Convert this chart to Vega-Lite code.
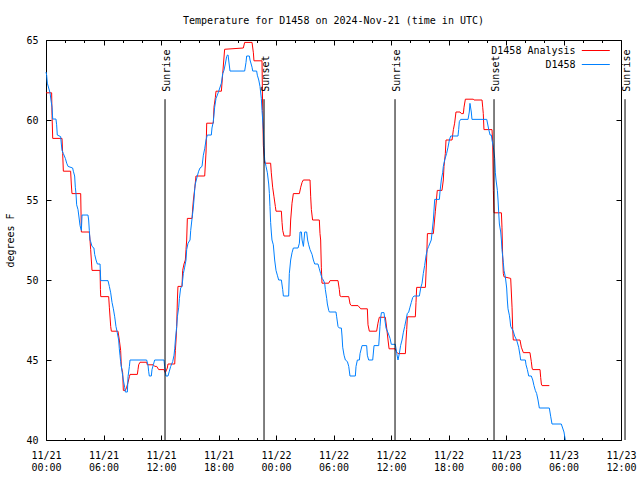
{
"$schema":"https://vega.github.io/schema/vega-lite/v6.json",
"width":575,"height":400,
"autosize":"none",
"padding":{"left":46,"top":40,"right":19,"bottom":40},
"background":"white",
"title":{"text":"Temperature for D1458 on 2024-Nov-21 (time in UTC)","font":"DejaVu Sans Mono","fontSize":10,"fontWeight":"normal","color":"black","offset":9},
"config":{"view":{"stroke":"black","strokeWidth":1},"axis":{"domain":false,"grid":false,"tickColor":"black","tickWidth":1,"labelFont":"DejaVu Sans Mono","labelFontSize":10,"labelColor":"black","titleFont":"DejaVu Sans Mono","titleFontSize":10,"titleFontWeight":"normal","titleColor":"black","labelFlush":false,"labelOverlap":false,"labelBound":false}},
"datasets":{
"temps":[
{"series":"D1458 Analysis","hour":0,"temp":61.7},{"series":"D1458 Analysis","hour":0.59,"temp":61.7},{"series":"D1458 Analysis","hour":0.63,"temp":60.3},{"series":"D1458 Analysis","hour":0.7,"temp":58.85},{"series":"D1458 Analysis","hour":1.67,"temp":58.85},{"series":"D1458 Analysis","hour":1.74,"temp":57.9},{"series":"D1458 Analysis","hour":1.81,"temp":56.8},{"series":"D1458 Analysis","hour":2.57,"temp":56.8},{"series":"D1458 Analysis","hour":2.64,"temp":56.0},{"series":"D1458 Analysis","hour":2.71,"temp":55.4},{"series":"D1458 Analysis","hour":3.62,"temp":55.4},{"series":"D1458 Analysis","hour":3.69,"temp":53.0},{"series":"D1458 Analysis","hour":4.52,"temp":53.0},{"series":"D1458 Analysis","hour":4.59,"temp":52.5},{"series":"D1458 Analysis","hour":4.66,"temp":51.9},{"series":"D1458 Analysis","hour":4.8,"temp":50.6},{"series":"D1458 Analysis","hour":5.64,"temp":50.6},{"series":"D1458 Analysis","hour":5.68,"temp":49.4},{"series":"D1458 Analysis","hour":5.71,"temp":48.96},{"series":"D1458 Analysis","hour":6.54,"temp":48.96},{"series":"D1458 Analysis","hour":6.61,"temp":48.3},{"series":"D1458 Analysis","hour":6.75,"temp":47.1},{"series":"D1458 Analysis","hour":6.82,"temp":46.8},{"series":"D1458 Analysis","hour":7.51,"temp":46.8},{"series":"D1458 Analysis","hour":7.65,"temp":46.25},{"series":"D1458 Analysis","hour":7.79,"temp":45.6},{"series":"D1458 Analysis","hour":7.86,"temp":44.6},{"series":"D1458 Analysis","hour":8.0,"temp":44.2},{"series":"D1458 Analysis","hour":8.07,"temp":43.1},{"series":"D1458 Analysis","hour":8.28,"temp":43.1},{"series":"D1458 Analysis","hour":8.42,"temp":43.3},{"series":"D1458 Analysis","hour":8.56,"temp":43.6},{"series":"D1458 Analysis","hour":8.7,"temp":43.96},{"series":"D1458 Analysis","hour":8.77,"temp":44.1},{"series":"D1458 Analysis","hour":9.53,"temp":44.1},{"series":"D1458 Analysis","hour":9.6,"temp":44.4},{"series":"D1458 Analysis","hour":9.67,"temp":44.7},{"series":"D1458 Analysis","hour":9.81,"temp":44.86},{"series":"D1458 Analysis","hour":10.5,"temp":44.86},{"series":"D1458 Analysis","hour":10.57,"temp":44.7},{"series":"D1458 Analysis","hour":11.2,"temp":44.7},{"series":"D1458 Analysis","hour":11.34,"temp":44.6},{"series":"D1458 Analysis","hour":11.55,"temp":44.6},{"series":"D1458 Analysis","hour":11.76,"temp":44.4},{"series":"D1458 Analysis","hour":12.31,"temp":44.4},{"series":"D1458 Analysis","hour":12.45,"temp":44.2},{"series":"D1458 Analysis","hour":12.66,"temp":44.5},{"series":"D1458 Analysis","hour":12.73,"temp":44.75},{"series":"D1458 Analysis","hour":13.43,"temp":44.75},{"series":"D1458 Analysis","hour":13.5,"temp":45.6},{"series":"D1458 Analysis","hour":13.57,"temp":46.25},{"series":"D1458 Analysis","hour":13.64,"temp":47.1},{"series":"D1458 Analysis","hour":13.71,"temp":48.75},{"series":"D1458 Analysis","hour":13.77,"temp":49.6},{"series":"D1458 Analysis","hour":14.19,"temp":49.6},{"series":"D1458 Analysis","hour":14.26,"temp":50.6},{"series":"D1458 Analysis","hour":14.4,"temp":51.0},{"series":"D1458 Analysis","hour":14.54,"temp":51.25},{"series":"D1458 Analysis","hour":14.61,"temp":51.9},{"series":"D1458 Analysis","hour":14.68,"temp":52.5},{"series":"D1458 Analysis","hour":14.75,"temp":53.85},{"series":"D1458 Analysis","hour":15.24,"temp":53.85},{"series":"D1458 Analysis","hour":15.31,"temp":54.5},{"series":"D1458 Analysis","hour":15.38,"temp":55.0},{"series":"D1458 Analysis","hour":15.52,"temp":55.7},{"series":"D1458 Analysis","hour":15.65,"temp":56.5},{"series":"D1458 Analysis","hour":16.56,"temp":56.5},{"series":"D1458 Analysis","hour":16.7,"temp":58.0},{"series":"D1458 Analysis","hour":16.77,"temp":59.8},{"series":"D1458 Analysis","hour":17.46,"temp":59.8},{"series":"D1458 Analysis","hour":17.53,"temp":60.8},{"series":"D1458 Analysis","hour":17.67,"temp":61.4},{"series":"D1458 Analysis","hour":17.74,"temp":61.8},{"series":"D1458 Analysis","hour":18.3,"temp":61.8},{"series":"D1458 Analysis","hour":18.44,"temp":62.9},{"series":"D1458 Analysis","hour":18.64,"temp":64.42},{"series":"D1458 Analysis","hour":20.59,"temp":64.5},{"series":"D1458 Analysis","hour":20.73,"temp":64.85},{"series":"D1458 Analysis","hour":21.5,"temp":64.85},{"series":"D1458 Analysis","hour":21.64,"temp":64.2},{"series":"D1458 Analysis","hour":21.7,"temp":63.7},{"series":"D1458 Analysis","hour":22.54,"temp":63.7},{"series":"D1458 Analysis","hour":22.61,"temp":60.6},{"series":"D1458 Analysis","hour":22.68,"temp":58.4},{"series":"D1458 Analysis","hour":22.82,"temp":57.3},{"series":"D1458 Analysis","hour":23.44,"temp":57.3},{"series":"D1458 Analysis","hour":23.51,"temp":56.7},{"series":"D1458 Analysis","hour":23.65,"temp":55.8},{"series":"D1458 Analysis","hour":23.79,"temp":55.2},{"series":"D1458 Analysis","hour":23.93,"temp":54.6},{"series":"D1458 Analysis","hour":24.0,"temp":54.3},{"series":"D1458 Analysis","hour":24.56,"temp":54.3},{"series":"D1458 Analysis","hour":24.63,"temp":53.6},{"series":"D1458 Analysis","hour":24.7,"temp":53.1},{"series":"D1458 Analysis","hour":24.84,"temp":52.75},{"series":"D1458 Analysis","hour":25.46,"temp":52.75},{"series":"D1458 Analysis","hour":25.53,"temp":53.75},{"series":"D1458 Analysis","hour":25.67,"temp":54.8},{"series":"D1458 Analysis","hour":25.81,"temp":55.4},{"series":"D1458 Analysis","hour":26.44,"temp":55.4},{"series":"D1458 Analysis","hour":26.58,"temp":55.8},{"series":"D1458 Analysis","hour":26.72,"temp":56.1},{"series":"D1458 Analysis","hour":26.85,"temp":56.25},{"series":"D1458 Analysis","hour":27.55,"temp":56.25},{"series":"D1458 Analysis","hour":27.62,"temp":55.2},{"series":"D1458 Analysis","hour":27.69,"temp":54.4},{"series":"D1458 Analysis","hour":27.82,"temp":53.75},{"series":"D1458 Analysis","hour":28.52,"temp":53.75},{"series":"D1458 Analysis","hour":28.59,"temp":52.9},{"series":"D1458 Analysis","hour":28.66,"temp":52.5},{"series":"D1458 Analysis","hour":28.73,"temp":50.8},{"series":"D1458 Analysis","hour":28.8,"temp":49.8},{"series":"D1458 Analysis","hour":29.5,"temp":49.8},{"series":"D1458 Analysis","hour":29.64,"temp":49.96},{"series":"D1458 Analysis","hour":30.47,"temp":49.96},{"series":"D1458 Analysis","hour":30.61,"temp":49.4},{"series":"D1458 Analysis","hour":30.68,"temp":49.0},{"series":"D1458 Analysis","hour":30.82,"temp":48.96},{"series":"D1458 Analysis","hour":31.59,"temp":48.96},{"series":"D1458 Analysis","hour":31.73,"temp":48.5},{"series":"D1458 Analysis","hour":31.86,"temp":48.4},{"series":"D1458 Analysis","hour":32.56,"temp":48.4},{"series":"D1458 Analysis","hour":32.84,"temp":48.2},{"series":"D1458 Analysis","hour":33.53,"temp":48.2},{"series":"D1458 Analysis","hour":33.6,"temp":47.2},{"series":"D1458 Analysis","hour":33.74,"temp":46.8},{"series":"D1458 Analysis","hour":34.5,"temp":46.8},{"series":"D1458 Analysis","hour":34.64,"temp":47.3},{"series":"D1458 Analysis","hour":34.78,"temp":47.67},{"series":"D1458 Analysis","hour":35.41,"temp":47.67},{"series":"D1458 Analysis","hour":35.55,"temp":47.0},{"series":"D1458 Analysis","hour":35.69,"temp":46.25},{"series":"D1458 Analysis","hour":35.8,"temp":45.7},{"series":"D1458 Analysis","hour":36.45,"temp":45.7},{"series":"D1458 Analysis","hour":36.59,"temp":45.5},{"series":"D1458 Analysis","hour":36.73,"temp":45.4},{"series":"D1458 Analysis","hour":37.5,"temp":45.4},{"series":"D1458 Analysis","hour":37.57,"temp":46.25},{"series":"D1458 Analysis","hour":37.64,"temp":46.9},{"series":"D1458 Analysis","hour":37.71,"temp":47.7},{"series":"D1458 Analysis","hour":38.54,"temp":47.7},{"series":"D1458 Analysis","hour":38.61,"temp":48.6},{"series":"D1458 Analysis","hour":38.68,"temp":49.54},{"series":"D1458 Analysis","hour":39.59,"temp":49.54},{"series":"D1458 Analysis","hour":39.66,"temp":50.5},{"series":"D1458 Analysis","hour":39.73,"temp":51.5},{"series":"D1458 Analysis","hour":39.8,"temp":52.9},{"series":"D1458 Analysis","hour":40.42,"temp":52.9},{"series":"D1458 Analysis","hour":40.63,"temp":54.3},{"series":"D1458 Analysis","hour":40.83,"temp":55.6},{"series":"D1458 Analysis","hour":41.32,"temp":55.6},{"series":"D1458 Analysis","hour":41.46,"temp":56.25},{"series":"D1458 Analysis","hour":41.53,"temp":57.1},{"series":"D1458 Analysis","hour":41.67,"temp":57.9},{"series":"D1458 Analysis","hour":41.74,"temp":58.75},{"series":"D1458 Analysis","hour":42.37,"temp":58.75},{"series":"D1458 Analysis","hour":42.51,"temp":59.4},{"series":"D1458 Analysis","hour":42.64,"temp":59.8},{"series":"D1458 Analysis","hour":42.78,"temp":60.5},{"series":"D1458 Analysis","hour":43.2,"temp":60.5},{"series":"D1458 Analysis","hour":43.34,"temp":60.4},{"series":"D1458 Analysis","hour":43.55,"temp":60.4},{"series":"D1458 Analysis","hour":43.62,"temp":60.8},{"series":"D1458 Analysis","hour":43.76,"temp":61.3},{"series":"D1458 Analysis","hour":44.59,"temp":61.3},{"series":"D1458 Analysis","hour":44.66,"temp":61.25},{"series":"D1458 Analysis","hour":45.5,"temp":61.25},{"series":"D1458 Analysis","hour":45.57,"temp":60.8},{"series":"D1458 Analysis","hour":45.63,"temp":60.4},{"series":"D1458 Analysis","hour":45.7,"temp":59.4},{"series":"D1458 Analysis","hour":46.54,"temp":59.4},{"series":"D1458 Analysis","hour":46.61,"temp":58.6},{"series":"D1458 Analysis","hour":46.68,"temp":55.6},{"series":"D1458 Analysis","hour":46.75,"temp":54.2},{"series":"D1458 Analysis","hour":47.52,"temp":54.2},{"series":"D1458 Analysis","hour":47.58,"temp":53.3},{"series":"D1458 Analysis","hour":47.65,"temp":51.5},{"series":"D1458 Analysis","hour":47.72,"temp":50.4},{"series":"D1458 Analysis","hour":47.79,"temp":50.2},{"series":"D1458 Analysis","hour":48.49,"temp":50.1},{"series":"D1458 Analysis","hour":48.63,"temp":48.3},{"series":"D1458 Analysis","hour":48.7,"temp":46.9},{"series":"D1458 Analysis","hour":48.76,"temp":46.25},{"series":"D1458 Analysis","hour":49.46,"temp":46.25},{"series":"D1458 Analysis","hour":49.6,"temp":45.8},{"series":"D1458 Analysis","hour":49.81,"temp":45.46},{"series":"D1458 Analysis","hour":50.5,"temp":45.46},{"series":"D1458 Analysis","hour":50.64,"temp":44.9},{"series":"D1458 Analysis","hour":50.72,"temp":44.5},{"series":"D1458 Analysis","hour":50.79,"temp":44.4},{"series":"D1458 Analysis","hour":51.55,"temp":44.4},{"series":"D1458 Analysis","hour":51.62,"temp":43.9},{"series":"D1458 Analysis","hour":51.69,"temp":43.5},{"series":"D1458 Analysis","hour":51.76,"temp":43.4},{"series":"D1458 Analysis","hour":52.52,"temp":43.4},
{"series":"D1458","hour":0,"temp":63.0},{"series":"D1458","hour":0.07,"temp":62.8},{"series":"D1458","hour":0.14,"temp":62.3},{"series":"D1458","hour":0.28,"temp":62.0},{"series":"D1458","hour":0.42,"temp":61.7},{"series":"D1458","hour":0.52,"temp":61.25},{"series":"D1458","hour":0.63,"temp":60.8},{"series":"D1458","hour":0.7,"temp":60.06},{"series":"D1458","hour":1.04,"temp":60.06},{"series":"D1458","hour":1.11,"temp":59.7},{"series":"D1458","hour":1.18,"temp":59.06},{"series":"D1458","hour":1.53,"temp":58.96},{"series":"D1458","hour":1.6,"temp":58.5},{"series":"D1458","hour":1.67,"temp":58.1},{"series":"D1458","hour":1.81,"temp":57.9},{"series":"D1458","hour":2.02,"temp":57.6},{"series":"D1458","hour":2.16,"temp":57.3},{"series":"D1458","hour":2.3,"temp":57.1},{"series":"D1458","hour":2.78,"temp":57.0},{"series":"D1458","hour":2.85,"temp":56.8},{"series":"D1458","hour":2.99,"temp":56.5},{"series":"D1458","hour":3.06,"temp":55.8},{"series":"D1458","hour":3.13,"temp":55.4},{"series":"D1458","hour":3.2,"temp":54.7},{"series":"D1458","hour":3.34,"temp":54.4},{"series":"D1458","hour":3.48,"temp":53.75},{"series":"D1458","hour":3.55,"temp":53.4},{"series":"D1458","hour":3.69,"temp":53.1},{"series":"D1458","hour":3.76,"temp":54.06},{"series":"D1458","hour":4.38,"temp":54.06},{"series":"D1458","hour":4.45,"temp":53.75},{"series":"D1458","hour":4.52,"temp":53.1},{"series":"D1458","hour":4.59,"temp":52.5},{"series":"D1458","hour":4.66,"temp":52.4},{"series":"D1458","hour":4.8,"temp":52.1},{"series":"D1458","hour":5.0,"temp":52.0},{"series":"D1458","hour":5.08,"temp":51.6},{"series":"D1458","hour":5.22,"temp":51.25},{"series":"D1458","hour":5.36,"temp":51.0},{"series":"D1458","hour":5.64,"temp":51.0},{"series":"D1458","hour":5.71,"temp":49.96},{"series":"D1458","hour":6.47,"temp":49.96},{"series":"D1458","hour":6.61,"temp":49.6},{"series":"D1458","hour":6.75,"temp":49.2},{"series":"D1458","hour":6.89,"temp":48.6},{"series":"D1458","hour":7.03,"temp":48.2},{"series":"D1458","hour":7.17,"temp":47.7},{"series":"D1458","hour":7.3,"temp":47.1},{"series":"D1458","hour":7.44,"temp":46.7},{"series":"D1458","hour":7.58,"temp":46.25},{"series":"D1458","hour":7.65,"temp":45.7},{"series":"D1458","hour":7.72,"temp":45.3},{"series":"D1458","hour":7.79,"temp":44.9},{"series":"D1458","hour":7.93,"temp":44.3},{"series":"D1458","hour":8.07,"temp":43.75},{"series":"D1458","hour":8.21,"temp":43.3},{"series":"D1458","hour":8.28,"temp":43.0},{"series":"D1458","hour":8.49,"temp":43.0},{"series":"D1458","hour":8.56,"temp":43.96},{"series":"D1458","hour":8.7,"temp":44.6},{"series":"D1458","hour":8.77,"temp":45.0},{"series":"D1458","hour":10.5,"temp":45.0},{"series":"D1458","hour":10.64,"temp":44.7},{"series":"D1458","hour":10.71,"temp":44.3},{"series":"D1458","hour":10.78,"temp":44.0},{"series":"D1458","hour":10.99,"temp":44.0},{"series":"D1458","hour":11.06,"temp":44.4},{"series":"D1458","hour":11.2,"temp":44.7},{"series":"D1458","hour":11.34,"temp":45.0},{"series":"D1458","hour":12.31,"temp":45.0},{"series":"D1458","hour":12.38,"temp":44.6},{"series":"D1458","hour":12.52,"temp":44.0},{"series":"D1458","hour":12.73,"temp":44.0},{"series":"D1458","hour":12.87,"temp":44.3},{"series":"D1458","hour":13.01,"temp":44.6},{"series":"D1458","hour":13.22,"temp":44.9},{"series":"D1458","hour":13.36,"temp":45.3},{"series":"D1458","hour":13.43,"temp":45.7},{"series":"D1458","hour":13.5,"temp":46.25},{"series":"D1458","hour":13.64,"temp":47.1},{"series":"D1458","hour":13.71,"temp":47.7},{"series":"D1458","hour":13.85,"temp":48.3},{"series":"D1458","hour":13.92,"temp":48.85},{"series":"D1458","hour":14.05,"temp":49.5},{"series":"D1458","hour":14.19,"temp":49.6},{"series":"D1458","hour":14.33,"temp":50.4},{"series":"D1458","hour":14.47,"temp":50.8},{"series":"D1458","hour":14.61,"temp":51.25},{"series":"D1458","hour":14.68,"temp":51.9},{"series":"D1458","hour":14.82,"temp":52.3},{"series":"D1458","hour":15.03,"temp":52.5},{"series":"D1458","hour":15.1,"temp":53.1},{"series":"D1458","hour":15.24,"temp":53.85},{"series":"D1458","hour":15.37,"temp":54.5},{"series":"D1458","hour":15.44,"temp":55.0},{"series":"D1458","hour":15.52,"temp":55.7},{"series":"D1458","hour":15.58,"temp":56.0},{"series":"D1458","hour":15.79,"temp":56.5},{"series":"D1458","hour":15.93,"temp":56.8},{"series":"D1458","hour":16.07,"temp":57.0},{"series":"D1458","hour":16.28,"temp":57.1},{"series":"D1458","hour":16.42,"temp":57.8},{"series":"D1458","hour":16.56,"temp":58.2},{"series":"D1458","hour":16.7,"temp":58.75},{"series":"D1458","hour":16.83,"temp":59.06},{"series":"D1458","hour":17.25,"temp":59.06},{"series":"D1458","hour":17.32,"temp":59.5},{"series":"D1458","hour":17.46,"temp":59.9},{"series":"D1458","hour":17.6,"temp":60.8},{"series":"D1458","hour":17.74,"temp":61.35},{"series":"D1458","hour":17.88,"temp":61.56},{"series":"D1458","hour":18.02,"temp":61.8},{"series":"D1458","hour":18.3,"temp":62.3},{"series":"D1458","hour":18.44,"temp":62.9},{"series":"D1458","hour":18.57,"temp":63.1},{"series":"D1458","hour":18.71,"temp":63.5},{"series":"D1458","hour":18.85,"temp":63.96},{"series":"D1458","hour":18.93,"temp":64.06},{"series":"D1458","hour":19.0,"temp":64.06},{"series":"D1458","hour":19.06,"temp":63.75},{"series":"D1458","hour":19.2,"temp":63.06},{"series":"D1458","hour":20.73,"temp":63.06},{"series":"D1458","hour":20.87,"temp":63.6},{"series":"D1458","hour":20.94,"temp":64.0},{"series":"D1458","hour":21.22,"temp":64.0},{"series":"D1458","hour":21.29,"temp":63.75},{"series":"D1458","hour":21.5,"temp":63.3},{"series":"D1458","hour":21.57,"temp":63.06},{"series":"D1458","hour":21.98,"temp":63.06},{"series":"D1458","hour":22.05,"temp":62.8},{"series":"D1458","hour":22.2,"temp":62.5},{"series":"D1458","hour":22.33,"temp":62.1},{"series":"D1458","hour":22.47,"temp":61.35},{"series":"D1458","hour":22.54,"temp":60.6},{"series":"D1458","hour":22.68,"temp":59.4},{"series":"D1458","hour":22.75,"temp":58.3},{"series":"D1458","hour":22.82,"temp":57.5},{"series":"D1458","hour":22.96,"temp":57.1},{"series":"D1458","hour":23.1,"temp":56.7},{"series":"D1458","hour":23.24,"temp":56.0},{"series":"D1458","hour":23.31,"temp":55.4},{"series":"D1458","hour":23.37,"temp":54.6},{"series":"D1458","hour":23.44,"temp":53.6},{"series":"D1458","hour":23.51,"temp":53.0},{"series":"D1458","hour":23.58,"temp":52.5},{"series":"D1458","hour":23.72,"temp":52.2},{"series":"D1458","hour":23.86,"temp":51.25},{"series":"D1458","hour":24.0,"temp":50.6},{"series":"D1458","hour":24.14,"temp":50.3},{"series":"D1458","hour":24.28,"temp":50.0},{"series":"D1458","hour":24.56,"temp":50.0},{"series":"D1458","hour":24.7,"temp":49.4},{"series":"D1458","hour":24.77,"temp":49.0},{"series":"D1458","hour":25.32,"temp":49.0},{"series":"D1458","hour":25.39,"temp":50.4},{"series":"D1458","hour":25.53,"temp":51.25},{"series":"D1458","hour":25.67,"temp":51.7},{"series":"D1458","hour":25.81,"temp":52.0},{"series":"D1458","hour":26.3,"temp":52.0},{"series":"D1458","hour":26.44,"temp":52.3},{"series":"D1458","hour":26.51,"temp":53.0},{"series":"D1458","hour":26.65,"temp":53.0},{"series":"D1458","hour":26.72,"temp":52.5},{"series":"D1458","hour":26.86,"temp":52.1},{"series":"D1458","hour":27.0,"temp":53.0},{"series":"D1458","hour":27.2,"temp":53.0},{"series":"D1458","hour":27.3,"temp":52.5},{"series":"D1458","hour":27.41,"temp":52.2},{"series":"D1458","hour":27.55,"temp":51.9},{"series":"D1458","hour":27.76,"temp":51.6},{"series":"D1458","hour":27.9,"temp":51.25},{"series":"D1458","hour":28.04,"temp":51.0},{"series":"D1458","hour":28.38,"temp":51.0},{"series":"D1458","hour":28.52,"temp":50.7},{"series":"D1458","hour":28.66,"temp":50.4},{"series":"D1458","hour":28.8,"temp":50.1},{"series":"D1458","hour":28.94,"temp":50.0},{"series":"D1458","hour":29.08,"temp":49.8},{"series":"D1458","hour":29.15,"temp":49.4},{"series":"D1458","hour":29.29,"temp":48.85},{"series":"D1458","hour":29.36,"temp":48.5},{"series":"D1458","hour":29.5,"temp":48.1},{"series":"D1458","hour":29.57,"temp":48.0},{"series":"D1458","hour":30.26,"temp":48.0},{"series":"D1458","hour":30.33,"temp":47.7},{"series":"D1458","hour":30.47,"temp":47.1},{"series":"D1458","hour":30.6,"temp":47.0},{"series":"D1458","hour":30.82,"temp":47.0},{"series":"D1458","hour":30.89,"temp":46.5},{"series":"D1458","hour":30.96,"temp":45.8},{"series":"D1458","hour":31.1,"temp":45.3},{"series":"D1458","hour":31.24,"temp":45.0},{"series":"D1458","hour":31.45,"temp":44.9},{"series":"D1458","hour":31.59,"temp":44.6},{"series":"D1458","hour":31.72,"temp":44.0},{"series":"D1458","hour":32.28,"temp":44.0},{"series":"D1458","hour":32.35,"temp":44.6},{"series":"D1458","hour":32.49,"temp":45.0},{"series":"D1458","hour":32.7,"temp":45.0},{"series":"D1458","hour":32.77,"temp":45.4},{"series":"D1458","hour":32.98,"temp":45.9},{"series":"D1458","hour":33.46,"temp":45.9},{"series":"D1458","hour":33.53,"temp":45.3},{"series":"D1458","hour":33.67,"temp":45.0},{"series":"D1458","hour":34.09,"temp":45.0},{"series":"D1458","hour":34.23,"temp":45.9},{"series":"D1458","hour":34.72,"temp":45.9},{"series":"D1458","hour":34.85,"temp":47.1},{"series":"D1458","hour":34.93,"temp":47.67},{"series":"D1458","hour":35.0,"temp":47.96},{"series":"D1458","hour":35.27,"temp":47.96},{"series":"D1458","hour":35.34,"temp":47.6},{"series":"D1458","hour":35.48,"temp":47.0},{"series":"D1458","hour":35.69,"temp":46.7},{"series":"D1458","hour":35.9,"temp":46.35},{"series":"D1458","hour":36.03,"temp":45.98},{"series":"D1458","hour":36.45,"temp":45.98},{"series":"D1458","hour":36.6,"temp":45.4},{"series":"D1458","hour":36.73,"temp":45.0},{"series":"D1458","hour":36.87,"temp":45.4},{"series":"D1458","hour":37.0,"temp":45.9},{"series":"D1458","hour":37.15,"temp":46.25},{"series":"D1458","hour":37.28,"temp":46.7},{"series":"D1458","hour":37.43,"temp":47.1},{"series":"D1458","hour":37.57,"temp":47.5},{"series":"D1458","hour":37.7,"temp":47.9},{"series":"D1458","hour":37.85,"temp":48.0},{"series":"D1458","hour":37.98,"temp":48.3},{"series":"D1458","hour":38.12,"temp":48.6},{"series":"D1458","hour":38.26,"temp":48.9},{"series":"D1458","hour":38.4,"temp":49.0},{"series":"D1458","hour":38.96,"temp":49.0},{"series":"D1458","hour":39.1,"temp":49.5},{"series":"D1458","hour":39.24,"temp":49.8},{"series":"D1458","hour":39.37,"temp":50.4},{"series":"D1458","hour":39.51,"temp":50.9},{"series":"D1458","hour":39.65,"temp":51.5},{"series":"D1458","hour":39.79,"temp":51.9},{"series":"D1458","hour":39.93,"temp":52.1},{"series":"D1458","hour":40.2,"temp":52.5},{"series":"D1458","hour":40.42,"temp":53.75},{"series":"D1458","hour":40.56,"temp":55.04},{"series":"D1458","hour":41.05,"temp":55.04},{"series":"D1458","hour":41.11,"temp":55.5},{"series":"D1458","hour":41.25,"temp":56.25},{"series":"D1458","hour":41.39,"temp":56.7},{"series":"D1458","hour":41.46,"temp":57.1},{"series":"D1458","hour":41.6,"temp":57.5},{"series":"D1458","hour":41.8,"temp":57.9},{"series":"D1458","hour":41.95,"temp":58.3},{"series":"D1458","hour":42.09,"temp":58.75},{"series":"D1458","hour":42.23,"temp":59.0},{"series":"D1458","hour":42.99,"temp":59.0},{"series":"D1458","hour":43.06,"temp":59.4},{"series":"D1458","hour":43.13,"temp":59.9},{"series":"D1458","hour":43.27,"temp":60.04},{"series":"D1458","hour":44.04,"temp":60.04},{"series":"D1458","hour":44.17,"temp":60.5},{"series":"D1458","hour":44.24,"temp":61.04},{"series":"D1458","hour":44.38,"temp":60.5},{"series":"D1458","hour":44.45,"temp":60.04},{"series":"D1458","hour":45.99,"temp":60.04},{"series":"D1458","hour":46.2,"temp":59.4},{"series":"D1458","hour":46.34,"temp":59.06},{"series":"D1458","hour":46.47,"temp":59.06},{"series":"D1458","hour":46.54,"temp":58.75},{"series":"D1458","hour":46.68,"temp":58.3},{"series":"D1458","hour":46.82,"temp":57.6},{"series":"D1458","hour":46.89,"temp":56.7},{"series":"D1458","hour":46.96,"temp":56.25},{"series":"D1458","hour":47.1,"temp":55.6},{"series":"D1458","hour":47.17,"temp":55.0},{"series":"D1458","hour":47.24,"temp":54.2},{"series":"D1458","hour":47.31,"temp":53.5},{"series":"D1458","hour":47.45,"temp":53.0},{"series":"D1458","hour":47.52,"temp":52.5},{"series":"D1458","hour":47.58,"temp":51.9},{"series":"D1458","hour":47.72,"temp":51.1},{"series":"D1458","hour":47.79,"temp":50.6},{"series":"D1458","hour":47.93,"temp":50.2},{"series":"D1458","hour":48.07,"temp":49.5},{"series":"D1458","hour":48.14,"temp":48.75},{"series":"D1458","hour":48.21,"temp":48.2},{"series":"D1458","hour":48.35,"temp":47.8},{"series":"D1458","hour":48.42,"temp":47.5},{"series":"D1458","hour":48.49,"temp":47.1},{"series":"D1458","hour":48.76,"temp":46.8},{"series":"D1458","hour":48.9,"temp":46.5},{"series":"D1458","hour":49.11,"temp":46.25},{"series":"D1458","hour":49.32,"temp":45.8},{"series":"D1458","hour":49.46,"temp":45.3},{"series":"D1458","hour":49.53,"temp":45.0},{"series":"D1458","hour":50.02,"temp":45.0},{"series":"D1458","hour":50.09,"temp":44.7},{"series":"D1458","hour":50.23,"temp":44.4},{"series":"D1458","hour":50.37,"temp":44.0},{"series":"D1458","hour":50.64,"temp":44.0},{"series":"D1458","hour":50.79,"temp":43.75},{"series":"D1458","hour":50.92,"temp":43.4},{"series":"D1458","hour":51.06,"temp":43.1},{"series":"D1458","hour":51.2,"temp":42.9},{"series":"D1458","hour":51.34,"temp":42.5},{"series":"D1458","hour":51.48,"temp":42.0},{"series":"D1458","hour":52.52,"temp":42.0},{"series":"D1458","hour":52.67,"temp":41.45},{"series":"D1458","hour":52.8,"temp":41.0},{"series":"D1458","hour":53.77,"temp":41.0},{"series":"D1458","hour":53.91,"temp":40.75},{"series":"D1458","hour":54.05,"temp":40.5},{"series":"D1458","hour":54.19,"temp":40.0}
],
"sun":[
{"event":"Sunrise","hour":12.42},{"event":"Sunset","hour":22.75},{"event":"Sunrise","hour":36.42},{"event":"Sunset","hour":46.75},{"event":"Sunrise","hour":60.42}
]
},
"layer":[
{"data":{"name":"temps"},"transform":[{"filter":"datum.series === 'D1458 Analysis'"}],
 "mark":{"type":"line","strokeWidth":1},
 "encoding":{
  "x":{"field":"hour","type":"quantitative","scale":{"domain":[0,60],"nice":false,"zero":false},
       "axis":{"orient":"bottom","values":[0,6,12,18,24,30,36,42,48,54,60],"tickSize":-5,"labelPadding":15,"labelBaseline":"top","labelLineHeight":12,"title":null,
       "labelExpr":"['11/' + (21 + floor(datum.value/24)), ((datum.value % 24) < 10 ? '0' : '') + (datum.value % 24) + ':00']"}},
  "y":{"field":"temp","type":"quantitative","scale":{"domain":[40,65],"nice":false,"zero":false},
       "axis":{"orient":"left","values":[40,45,50,55,60,65],"tickSize":-5,"labelPadding":13,"title":"degrees F","titlePadding":10}},
  "color":{"field":"series","type":"nominal","scale":{"domain":["D1458 Analysis","D1458"],"range":["#ff0000","#0080ff"]},
       "legend":{"orient":"none","legendX":544.3,"legendY":5,"title":null,"symbolType":"M-3,0H3","symbolSize":87,"symbolStrokeWidth":1,"labelAlign":"right","labelOffset":-25.7,"rowPadding":3,"padding":0,"labelFont":"DejaVu Sans Mono","labelFontSize":10,"labelColor":"black"}}
 }},
{"data":{"name":"temps"},"transform":[{"filter":"datum.series === 'D1458'"}],
 "mark":{"type":"line","strokeWidth":1},
 "encoding":{
  "x":{"field":"hour","type":"quantitative","scale":{"domain":[0,60],"nice":false,"zero":false},
       "axis":{"orient":"bottom","values":[2,4,8,10,14,16,20,22,26,28,32,34,38,40,44,46,50,52,56,58],"tickSize":-2.5,"labels":false,"title":null}},
  "y":{"field":"temp","type":"quantitative","axis":null},
  "color":{"field":"series","type":"nominal"}
 }},
{"data":{"name":"sun"},
 "mark":{"type":"rule","color":"black","strokeWidth":1},
 "encoding":{
  "x":{"field":"hour","type":"quantitative",
       "axis":{"orient":"top","values":[0,6,12,18,24,30,36,42,48,54,60],"tickSize":-5,"labels":false,"title":null}},
  "y":{"datum":61.3,"type":"quantitative","axis":{"orient":"right","values":[40,45,50,55,60,65],"tickSize":-5,"labels":false,"title":null}},
  "y2":{"datum":40}
 }},
{"data":{"name":"sun"},
 "mark":{"type":"text","angle":270,"align":"left","baseline":"middle","dy":1.5,"font":"DejaVu Sans Mono","fontSize":10,"color":"black"},
 "encoding":{
  "x":{"field":"hour","type":"quantitative",
       "axis":{"orient":"top","values":[2,4,8,10,14,16,20,22,26,28,32,34,38,40,44,46,50,52,56,58],"tickSize":-2.5,"labels":false,"title":null}},
  "y":{"datum":61.77,"type":"quantitative","axis":null},
  "text":{"field":"event"}
 }}
],
"resolve":{"axis":{"x":"independent","y":"independent"}}
}
